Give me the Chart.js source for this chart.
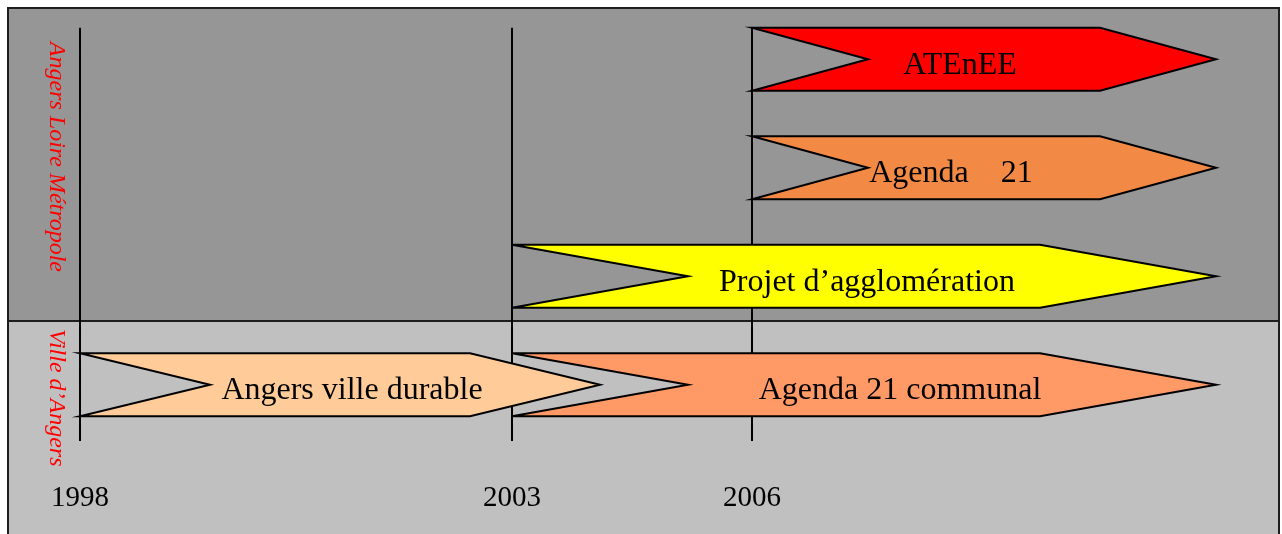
<!DOCTYPE html>
<html>
<head>
<meta charset="utf-8">
<script src="https://cdn.jsdelivr.net/npm/chart.js@4.4.0/dist/chart.umd.min.js"></script>
<style>
  html, body { margin: 0; padding: 0; background: #fff; }
</style>
</head>
<body>
<canvas id="timeline" width="1282" height="534"></canvas>
<script>
const rows = ['ATEnEE', 'Agenda 21', 'Projet d’agglomération', 'Ville d’Angers'];
const groups = ['Angers Loire Métropole', 'Ville d’Angers'];
const projects = ['ATEnEE', 'Agenda    21', 'Projet d’agglomération', 'Agenda 21 communal', 'Angers ville durable'];
const projectRow = ['ATEnEE', 'Agenda 21', 'Projet d’agglomération', 'Ville d’Angers', 'Ville d’Angers'];
const startYear = [2006, 2006, 2003, 2003, 1998];
const endYear = [2011.8, 2011.8, 2011.8, 2011.8, 2004.1];
const yearTicks = [1998, 2003, 2006];

const colors = ['#ff0000', '#f28a46', '#ffff00', '#ff9966', '#ffcc99'];
// text boxes in the original are not quite centred on their arrows
const labelNudge = [-24, -33, 3, 36, 12];

// the original is not to scale: years before 2003 are drawn a bit wider
function warp(v) { return v < 2003 ? 2003 - (2003 - v) * 1.08 : v; }
function unwarp(v) { return v < 2003 ? 2003 - (2003 - v) / 1.08 : v; }

class WarpScale extends Chart.LinearScale {
    getPixelForValue(v) { return super.getPixelForValue(v == null ? v : warp(v)); }
    getValueForPixel(p) { return unwarp(super.getValueForPixel(p)); }
}
WarpScale.id = 'warp';
WarpScale.defaults = Chart.LinearScale.defaults;
Chart.register(WarpScale);

const panels = {
    id: 'panels',
    beforeDraw(chart) {
        const { ctx, width, height, chartArea } = chart;
        const x = chart.scales.x, y = chart.scales.y;
        const left = 8, right = width - 3, top = 8;
        const split = Math.round(y.getPixelForValue(2.41));
        ctx.save();
        ctx.fillStyle = '#fff';
        ctx.fillRect(0, 0, width, height);
        ctx.fillStyle = '#969696';
        ctx.fillRect(left, top, right - left, split - top);
        ctx.fillStyle = '#c0c0c0';
        ctx.fillRect(left, split, right - left, height - split);
        ctx.strokeStyle = '#1e1e1e';
        ctx.lineWidth = 2;
        ctx.strokeRect(left, top, right - left, height + 10);
        ctx.beginPath();
        ctx.moveTo(left, split);
        ctx.lineTo(right, split);
        ctx.stroke();

        // year lines
        const first = chart.getDatasetMeta(0).data[0];
        const lineTop = first.y - first.height / 2;
        ctx.strokeStyle = '#000';
        yearTicks.forEach(v => {
            const px = Math.round(x.getPixelForValue(v));
            ctx.beginPath();
            ctx.moveTo(px, lineTop);
            ctx.lineTo(px, chartArea.bottom + 2);
            ctx.stroke();
        });

        // group names, rotated
        ctx.fillStyle = '#ff0000';
        ctx.font = 'italic 24px "Liberation Serif"';
        ctx.textAlign = 'center';
        ctx.textBaseline = 'middle';
        [[groups[0], 0.9], [groups[1], 3.12]].forEach(([t, pos]) => {
            ctx.save();
            ctx.translate(chartArea.left - 24, y.getPixelForValue(pos));
            ctx.rotate(Math.PI / 2);
            ctx.fillText(t, 0, 0);
            ctx.restore();
        });
        ctx.restore();
    }
};

const chevrons = {
    id: 'chevrons',
    beforeDatasetDraw(chart, args) {
        const ctx = chart.ctx;
        const ds = chart.data.datasets[args.index];
        args.meta.data.forEach(bar => {
            const { x, y, base, height } = bar.getProps(['x', 'y', 'base', 'height'], true);
            const tip = (x - base) * 0.25;
            const top = y - height / 2, bottom = y + height / 2;
            ctx.save();
            ctx.beginPath();
            ctx.moveTo(base, top);
            ctx.lineTo(x - tip, top);
            ctx.lineTo(x, y);
            ctx.lineTo(x - tip, bottom);
            ctx.lineTo(base, bottom);
            ctx.lineTo(base + tip, y);
            ctx.closePath();
            ctx.fillStyle = ds.backgroundColor;
            ctx.fill();
            ctx.lineWidth = 2;
            ctx.strokeStyle = '#000';
            ctx.stroke();
            ctx.fillStyle = '#000';
            ctx.font = '32px "Liberation Serif"';
            ctx.textAlign = 'center';
            ctx.textBaseline = 'middle';
            ctx.fillText(ds.label, (base + x) / 2 + labelNudge[args.index], y + 6);
            ctx.restore();
        });
        return false;
    }
};

const datasets = projects.map((name, i) => ({
    label: name,
    data: [{ x: [startYear[i], endYear[i]], y: projectRow[i] }],
    backgroundColor: colors[i],
    barThickness: 63,
    grouped: false
}));

new Chart(document.getElementById('timeline'), {
    type: 'bar',
    data: { labels: rows, datasets: datasets },
    options: {
        responsive: false,
        animation: false,
        indexAxis: 'y',
        layout: { padding: { left: 80, right: 42, top: 5, bottom: 18 } },
        plugins: { legend: { display: false }, tooltip: { enabled: false } },
        scales: {
            x: {
                type: 'warp',
                bounds: 'data',
                min: warp(1998),
                max: 2012.1,
                grid: { display: false, drawTicks: false },
                border: { display: false },
                afterBuildTicks: s => { s.ticks = yearTicks.map(v => ({ value: v })); },
                afterFit: s => { s.height = 77; },
                ticks: {
                    autoSkip: false,
                    maxRotation: 0,
                    padding: 42,
                    color: '#000',
                    font: { family: '"Liberation Serif", serif', size: 29 },
                    callback: v => String(v)
                }
            },
            y: {
                type: 'category',
                labels: rows,
                offset: true,
                display: false
            }
        }
    },
    plugins: [panels, chevrons]
});
</script>
</body>
</html>
